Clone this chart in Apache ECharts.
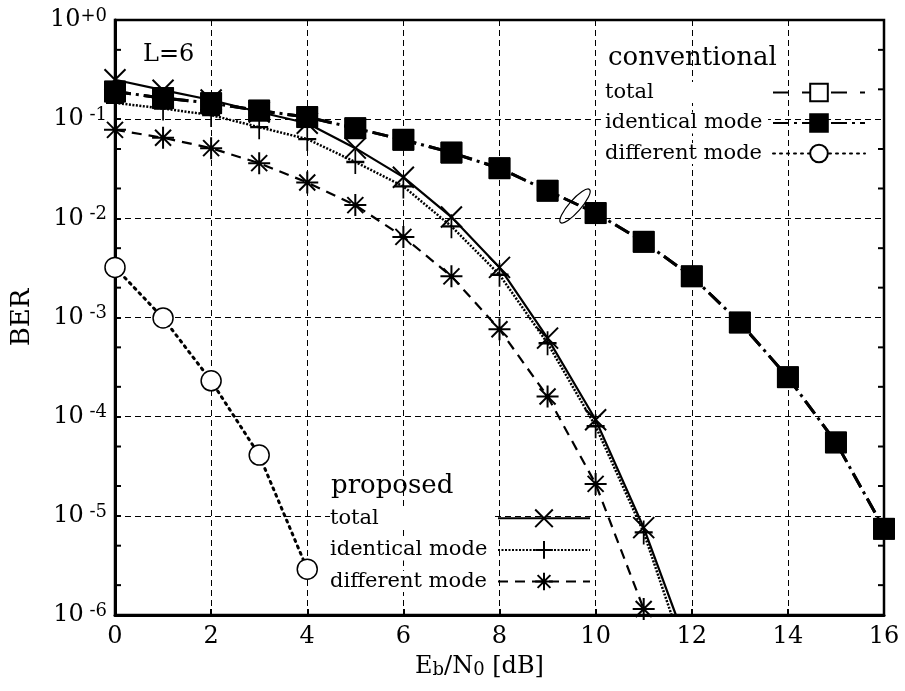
<!DOCTYPE html>
<html><head><meta charset="utf-8">
<script src="https://cdn.jsdelivr.net/npm/echarts@6/dist/echarts.min.js"></script>
<style>html,body{margin:0;padding:0;background:#fff}#c{width:905px;height:691px}</style>
</head><body><div id="c"></div>
<script>
// Eb/N0 [dB]
var ebn0Conv = [0,1,2,3,4,5,6,7,8,9,10,11,12,13,14,15,16];
var convIdentical = [0.19,0.163,0.145,0.122,0.105,0.081,0.062,0.046,0.032,0.019,0.0113,0.0058,0.0026,0.00089,0.00025,5.5e-5,7.4e-6];
var convTotal = [0.19,0.163,0.145,0.122,0.105,0.081,0.062,0.046,0.032,0.019,0.0113,0.0058,0.0026,0.00089,0.00025,5.5e-5,7.4e-6];
var ebn0ConvDiff = [0,1,2,3,4];
var convDifferent = [0.0032,0.00099,0.00023,4.1e-5,2.9e-6];
var ebn0Prop = [0,1,2,3,4,5,6,7,8,9,10,11];
var propTotal = [0.25,0.196,0.156,0.118,0.091,0.051,0.026,0.0103,0.0032,0.00062,9.3e-5,7.6e-6];
var propTotalEnd = [11.67,1e-6];
var propIdentical = [0.146,0.128,0.11,0.083,0.063,0.037,0.021,0.0083,0.0027,0.00055,8e-5,6.8e-6];
var propIdenticalEnd = [11.58,1e-6];
var propDifferent = [0.078,0.065,0.051,0.036,0.023,0.0136,0.0065,0.0026,0.00076,0.00016,2.1e-5,1.15e-6];
var minorTickValues = [2e-6,5e-6,2e-5,5e-5,2e-4,5e-4,2e-3,5e-3,2e-2,5e-2,0.2,0.5];

var FONT = 'DejaVu Serif';
function pairs(xs, ys){ return ys.map(function(v,i){ return [xs[i], v]; }); }
function withEnd(p, end){ var d = p.slice(); d.push({value:end, symbolSize:0}); return d; }

var CROSS = 'path://M0,0L20,20M20,0L0,20';
var PLUS = 'path://M9,0L9,24M0,12L18,12';
var STAR = 'path://M11,0L11,22M0,11L22,11M3,3L19,19M19,3L3,19';

var legendText = {fontFamily:FONT, fontSize:21, color:'#000',
  rich:{t:{fontFamily:FONT, fontSize:21, color:'#000', width:163, align:'left', backgroundColor:'#fff'}}};

var chart = echarts.init(document.getElementById('c'), null, {renderer:'canvas'});
chart.setOption({
  animation:false,
  backgroundColor:'#fff',
  grid:{left:115, right:21, top:20, bottom:76, show:true, borderColor:'#000', borderWidth:2.5},
  title:[
    {text:'L=6', left:138, top:38, textStyle:{fontFamily:FONT, fontSize:24, fontWeight:'normal', color:'#000'}},
    {text:'conventional', left:603, top:40, textStyle:{fontFamily:FONT, fontSize:26, fontWeight:'normal', color:'#000', backgroundColor:'#fff'}},
    {text:'proposed', left:326, top:468, textStyle:{fontFamily:FONT, fontSize:26, fontWeight:'normal', color:'#000', backgroundColor:'#fff'}}
  ],
  legend:[
    {data:['conventional total','conventional identical mode','conventional different mode'],
     orient:'vertical', left:600, top:77, align:'right', itemWidth:92, itemHeight:22, itemGap:9.5,
     selectedMode:false,
     formatter:function(n){return '{t|' + n.replace('conventional ','') + '}';},
     textStyle:legendText},
    {data:['proposed total','proposed identical mode','proposed different mode'],
     orient:'vertical', left:325, top:502, align:'right', itemWidth:92, itemHeight:22, itemGap:9,
     selectedMode:false,
     formatter:function(n){return '{t|' + n.replace('proposed ','') + '}';},
     textStyle:legendText}
  ],
  xAxis:{type:'value', min:0, max:16, interval:2,
    name:'{a|E}{b|b}{a|/N}{c|0}{a| [dB]}', nameLocation:'middle', nameGap:40,
    nameTextStyle:{padding:[0,40,0,0], rich:{a:{fontFamily:FONT,fontSize:24,color:'#000'},b:{fontFamily:FONT,fontSize:18,color:'#000',verticalAlign:'bottom'},c:{fontFamily:FONT,fontSize:18,color:'#000',verticalAlign:'bottom'}}},
    axisLine:{show:true, lineStyle:{color:'#000', width:3}},
    axisTick:{show:true, inside:true, length:6, lineStyle:{color:'#000', width:2}},
    axisLabel:{fontFamily:FONT, fontSize:24, color:'#000', margin:10},
    splitLine:{show:true, lineStyle:{color:'#000', width:1, type:[6,4]}}
  },
  yAxis:{type:'log', logBase:10, min:1e-6, max:1,
    name:'BER', nameLocation:'middle', nameGap:80, nameRotate:90,
    nameTextStyle:{fontFamily:FONT, fontSize:26, color:'#000'},
    axisLine:{show:true, lineStyle:{color:'#000', width:3}},
    axisTick:{show:true, inside:true, length:6, lineStyle:{color:'#000', width:2}},
    axisLabel:{margin:8, formatter:function(v){
        var e = Math.round(Math.log10(v));
        return e === 0 ? '{b|10}{s|+0}' : '{b|10}{s| ' + e + '}';
      },
      rich:{b:{fontFamily:FONT,fontSize:24,color:'#000',lineHeight:26},s:{fontFamily:FONT,fontSize:18,color:'#000',verticalAlign:'top',lineHeight:24}}},
    splitLine:{show:true, lineStyle:{color:'#000', width:1, type:[6,4]}}
  },
  series:[
    {type:'custom', name:'ticks', coordinateSystem:'cartesian2d', silent:true, z:5,
     data:minorTickValues.map(function(v){return [0,v];}),
     renderItem:function(params, api){
       var v = api.value(1);
       var l = api.coord([0, v]); var r = api.coord([16, v]);
       return {type:'group', children:[
         {type:'line', shape:{x1:l[0], y1:l[1], x2:l[0]+6, y2:l[1]}, style:{stroke:'#000', lineWidth:2}},
         {type:'line', shape:{x1:r[0]-6, y1:r[1], x2:r[0], y2:r[1]}, style:{stroke:'#000', lineWidth:2}}
       ]};
     }},
    {name:'conventional total', type:'line', data:pairs(ebn0Conv, convTotal), z:2,
     symbol:'rect', symbolSize:20, itemStyle:{color:'#fff', borderColor:'#000', borderWidth:1.5},
     lineStyle:{color:'#000', width:3, type:[16,13]}},
    {name:'conventional identical mode', type:'line', data:pairs(ebn0Conv, convIdentical), z:3,
     symbol:'rect', symbolSize:21, itemStyle:{color:'#000', borderColor:'#000', borderWidth:1},
     lineStyle:{color:'#000', width:3, type:[16,5,3,5]}},
    {name:'conventional different mode', type:'line', data:pairs(ebn0ConvDiff, convDifferent), z:3,
     symbol:'circle', symbolSize:20, itemStyle:{color:'#fff', borderColor:'#000', borderWidth:1.5},
     lineStyle:{color:'#000', width:3, type:[2,5], cap:'round'}},
    {name:'proposed total', type:'line', data:withEnd(pairs(ebn0Prop, propTotal), propTotalEnd), z:4,
     symbol:CROSS, symbolSize:21, itemStyle:{color:'none', borderColor:'#000', borderWidth:2},
     lineStyle:{color:'#000', width:2.2}},
    {name:'proposed identical mode', type:'line', data:withEnd(pairs(ebn0Prop, propIdentical), propIdenticalEnd), z:4,
     symbol:PLUS, symbolSize:[18,24], itemStyle:{color:'none', borderColor:'#000', borderWidth:2},
     lineStyle:{color:'#000', width:2.5, type:[2,1.5]}},
    {name:'proposed different mode', type:'line', data:pairs(ebn0Prop, propDifferent), z:4,
     symbol:STAR, symbolSize:22, itemStyle:{color:'none', borderColor:'#000', borderWidth:2},
     lineStyle:{color:'#000', width:2.2, type:[10,7]}}
  ],
  graphic:[
    {type:'ellipse', x:575, y:206, rotation:-0.72, shape:{cx:0, cy:0, rx:6, ry:22},
     style:{fill:'none', stroke:'#000', lineWidth:1.2}, z:10}
  ]
});
</script></body></html>
